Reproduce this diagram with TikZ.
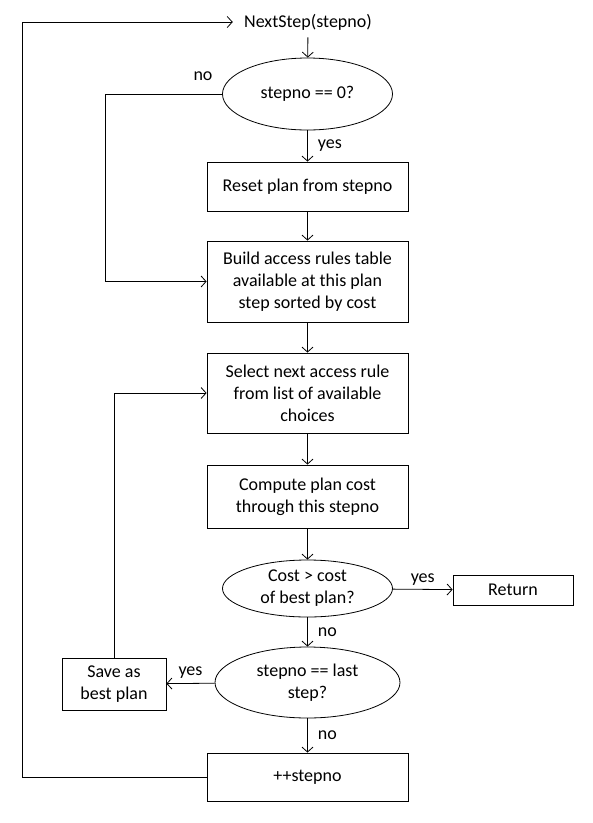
\documentclass[tikz,border=0pt]{standalone}
\usepackage{fontspec}
\setmainfont{Carlito}
\usetikzlibrary{shapes,calc,positioning,arrows.meta}

\begin{document}
\begin{tikzpicture}[x=1pt, y=-1pt, line width=0.8pt,
    every node/.style={font=\fontsize{18}{22}\selectfont, align=center},
    procbox/.style={draw, rectangle, minimum width=201pt, inner sep=2pt},
    decide/.style={draw, ellipse, inner sep=0pt},
    arr/.style={-{Straight Barb[length=5pt,width=11pt]}},
    lbl/.style={inner sep=2pt}]
\useasboundingbox (0,0) rectangle (593,823);
% nodes
\node[inner xsep=11pt, inner ysep=7pt] (next) at (308,22) {NextStep(stepno)};
\node[decide, minimum width=170pt, minimum height=72pt] (zero) at (307.5,94) {stepno == 0?};
\node[procbox, minimum height=49pt] (reset) at (307.5,186.5) {Reset plan from stepno};
\node[procbox, minimum height=81pt] (build) at (307.5,281.5) {Build access rules table\\available at this plan\\step sorted by cost};
\node[procbox, minimum height=80pt] (select) at (307.5,393) {Select next access rule\\from list of available\\choices};
\node[procbox, minimum height=63pt] (compute) at (307.5,496.5) {Compute plan cost\\through this stepno};
\node[decide, minimum width=170pt, minimum height=57pt] (cost) at (307.5,588.5) {Cost {\textgreater} cost\\of best plan?};
\node[draw, minimum width=120pt, minimum height=30pt] (ret) at (513,590) {Return};
\node[decide, minimum width=185pt, minimum height=71pt] (last) at (307.5,682.5) {stepno == last\\step?};
\node[draw, minimum width=104pt, minimum height=52pt] (save) at (114,684) {Save as\\best plan};
\node[procbox, minimum height=48pt] (incr) at (307.5,777) {++stepno};
\coordinate (loop) at (22,22);
\coordinate (skip) at (105,94);

% connectors
\draw[arr] (next) -- (zero);
\draw[arr] (zero) -- node[lbl, right, xshift=8pt] {yes} (reset);
\draw[arr] (zero.west) -- (skip) |- (build.west);
\node[lbl] (nolbl) at (203,76) {no};
\draw[arr] (reset) -- (build);
\draw[arr] (build) -- (select);
\draw[arr] (select) -- (compute);
\draw[arr] (compute) -- (cost);
\draw[arr] (cost) -- node[lbl, above, yshift=2pt] {yes} (ret);
\draw[arr] (cost) -- node[lbl, right, xshift=8pt] {no} (last);
\draw[arr] (last) -- node[lbl, above, yshift=3pt] {yes} (save);
\draw[arr] (save.north) |- (select.west);
\draw[arr] (last) -- node[lbl, right, xshift=8pt] {no} (incr);
\draw[arr] (incr.west) -| (loop) -- (next.west);
\end{tikzpicture}
\end{document}
